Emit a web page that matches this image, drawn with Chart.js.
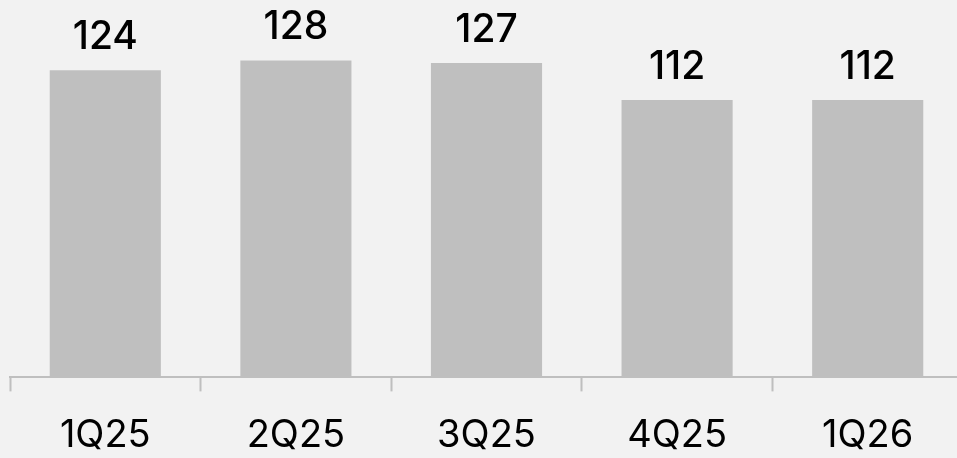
<!DOCTYPE html>
<html lang="en">
  <head>
    <meta charset="UTF-8" />
    <title>Quarterly</title>
    <style>
      html, body { margin: 0; padding: 0; background: #f2f2f2; overflow: hidden; }
      #wrap { width: 963px; height: 458px; overflow: hidden; }
    </style>
  </head>
  <script src="https://cdn.jsdelivr.net/npm/chart.js@4.4.1/dist/chart.umd.min.js"></script>
  <body>
    <div id="wrap"><canvas id="quarters-chart" width="963" height="500"></canvas></div>
    <script>
      const quarters = ['1Q25', '2Q25', '3Q25', '4Q25', '1Q26'];
      const values = [124, 128, 127, 112, 112];

      const barColor = '#bfbfbf';
      const axisColor = '#bfbfbf';
      const fontFamily = 'Inter, "Noto Sans", sans-serif';

      // value labels above each bar
      const valueLabels = {
        id: 'valueLabels',
        afterDatasetsDraw(chart) {
          const ctx = chart.ctx;
          const meta = chart.getDatasetMeta(0);
          ctx.save();
          ctx.fillStyle = '#000000';
          ctx.font = '500 39px ' + fontFamily;
          ctx.textAlign = 'center';
          ctx.textBaseline = 'alphabetic';
          meta.data.forEach((bar, i) => {
            ctx.fillText(String(values[i]), bar.x, bar.y - 21);
          });
          ctx.restore();
        }
      };

      const ctx = document.getElementById('quarters-chart').getContext('2d');
      new Chart(ctx, {
        type: 'bar',
        data: {
          labels: quarters,
          datasets: [
            {
              data: values,
              backgroundColor: barColor,
              borderWidth: 0,
              barPercentage: 0.583,
              categoryPercentage: 1
            }
          ]
        },
        options: {
          responsive: false,
          animation: false,
          layout: { padding: { left: 10, right: 0, top: 0, bottom: 21 } },
          plugins: {
            legend: { display: false },
            tooltip: { enabled: false }
          },
          scales: {
            x: {
              grid: {
                display: true,
                drawOnChartArea: false,
                offset: true,
                tickLength: 14,
                tickColor: axisColor,
                tickWidth: 2
              },
              border: { display: true, color: axisColor, width: 2 },
              ticks: {
                color: '#000000',
                padding: 21,
                font: { family: fontFamily, size: 38, weight: '400', lineHeight: 1.2 }
              }
            },
            y: {
              display: false,
              min: 0,
              max: 152.4
            }
          }
        },
        plugins: [valueLabels]
      });
    </script>
  </body>
</html>
